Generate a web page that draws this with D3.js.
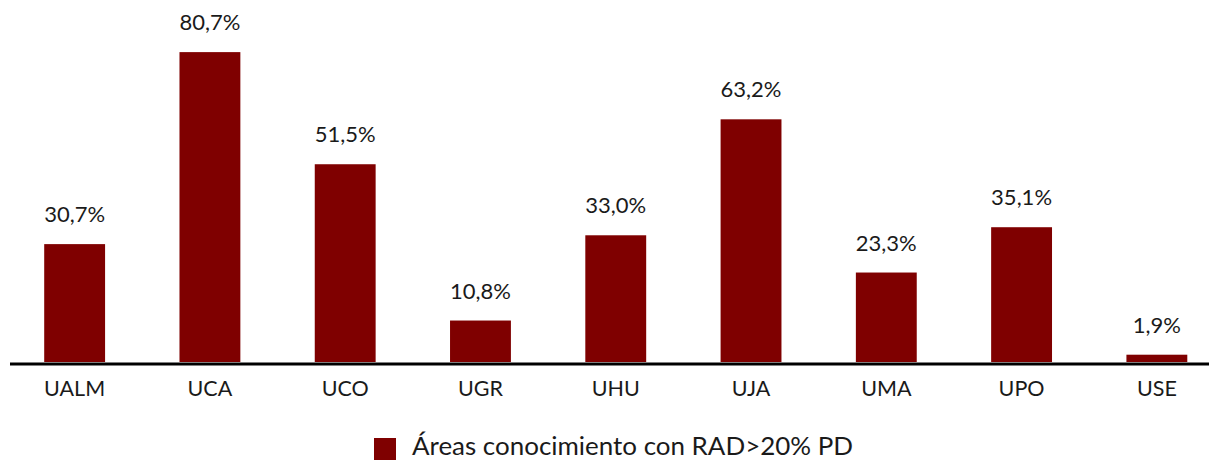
<!DOCTYPE html>
<html><head><meta charset="utf-8">
<script src="https://cdn.jsdelivr.net/npm/d3@7"></script>
<style>body{margin:0;background:#fff}svg{display:block}text{font-family:"Lato","Noto Sans",sans-serif;fill:#1a1a1a}</style>
</head><body><svg id="c" width="1209" height="461"></svg>
<script>
const categories = ["UALM","UCA","UCO","UGR","UHU","UJA","UMA","UPO","USE"];
const values = [30.7, 80.7, 51.5, 10.8, 33.0, 63.2, 23.3, 35.1, 1.9];
const seriesName = "Áreas conocimiento con RAD>20% PD";
const fmt = v => v.toFixed(1).replace(".", ",") + "%";

const svg = d3.select("#c");
const x = d3.scaleBand().domain(categories).range([7, 1224.5]).paddingInner(0.55).paddingOuter(0.275);
const y = d3.scaleLinear().domain([0, 90]).range([362, 16.4]);
const color = "#7f0000";

svg.selectAll("rect.bar").data(values).join("rect").attr("class","bar")
  .attr("x",(d,i)=>x(categories[i])).attr("width",x.bandwidth())
  .attr("y",d=>y(d)).attr("height",d=>y(0)-y(d)).attr("fill",color);

svg.selectAll("text.val").data(values).join("text").attr("class","val")
  .attr("x",(d,i)=>x(categories[i])+x.bandwidth()/2).attr("y",d=>y(d)-22)
  .attr("text-anchor","middle").style("font-size","22px").text(fmt);

svg.append("line").attr("x1",10).attr("x2",1209).attr("y1",364).attr("y2",364)
  .attr("stroke","#000").attr("stroke-width",3);

svg.selectAll("text.cat").data(categories).join("text").attr("class","cat")
  .attr("x",d=>x(d)+x.bandwidth()/2).attr("y",396)
  .attr("text-anchor","middle").style("font-size","21.5px").text(d=>d);

svg.append("rect").attr("x",374).attr("y",438).attr("width",22).attr("height",22).attr("fill",color);
const lt = svg.append("text").attr("x",412).attr("y",455).style("font-size","22px").text(seriesName);
const w = lt.node().getComputedTextLength();
lt.style("font-size", (22*441/w).toFixed(2)+"px");
</script></body></html>
